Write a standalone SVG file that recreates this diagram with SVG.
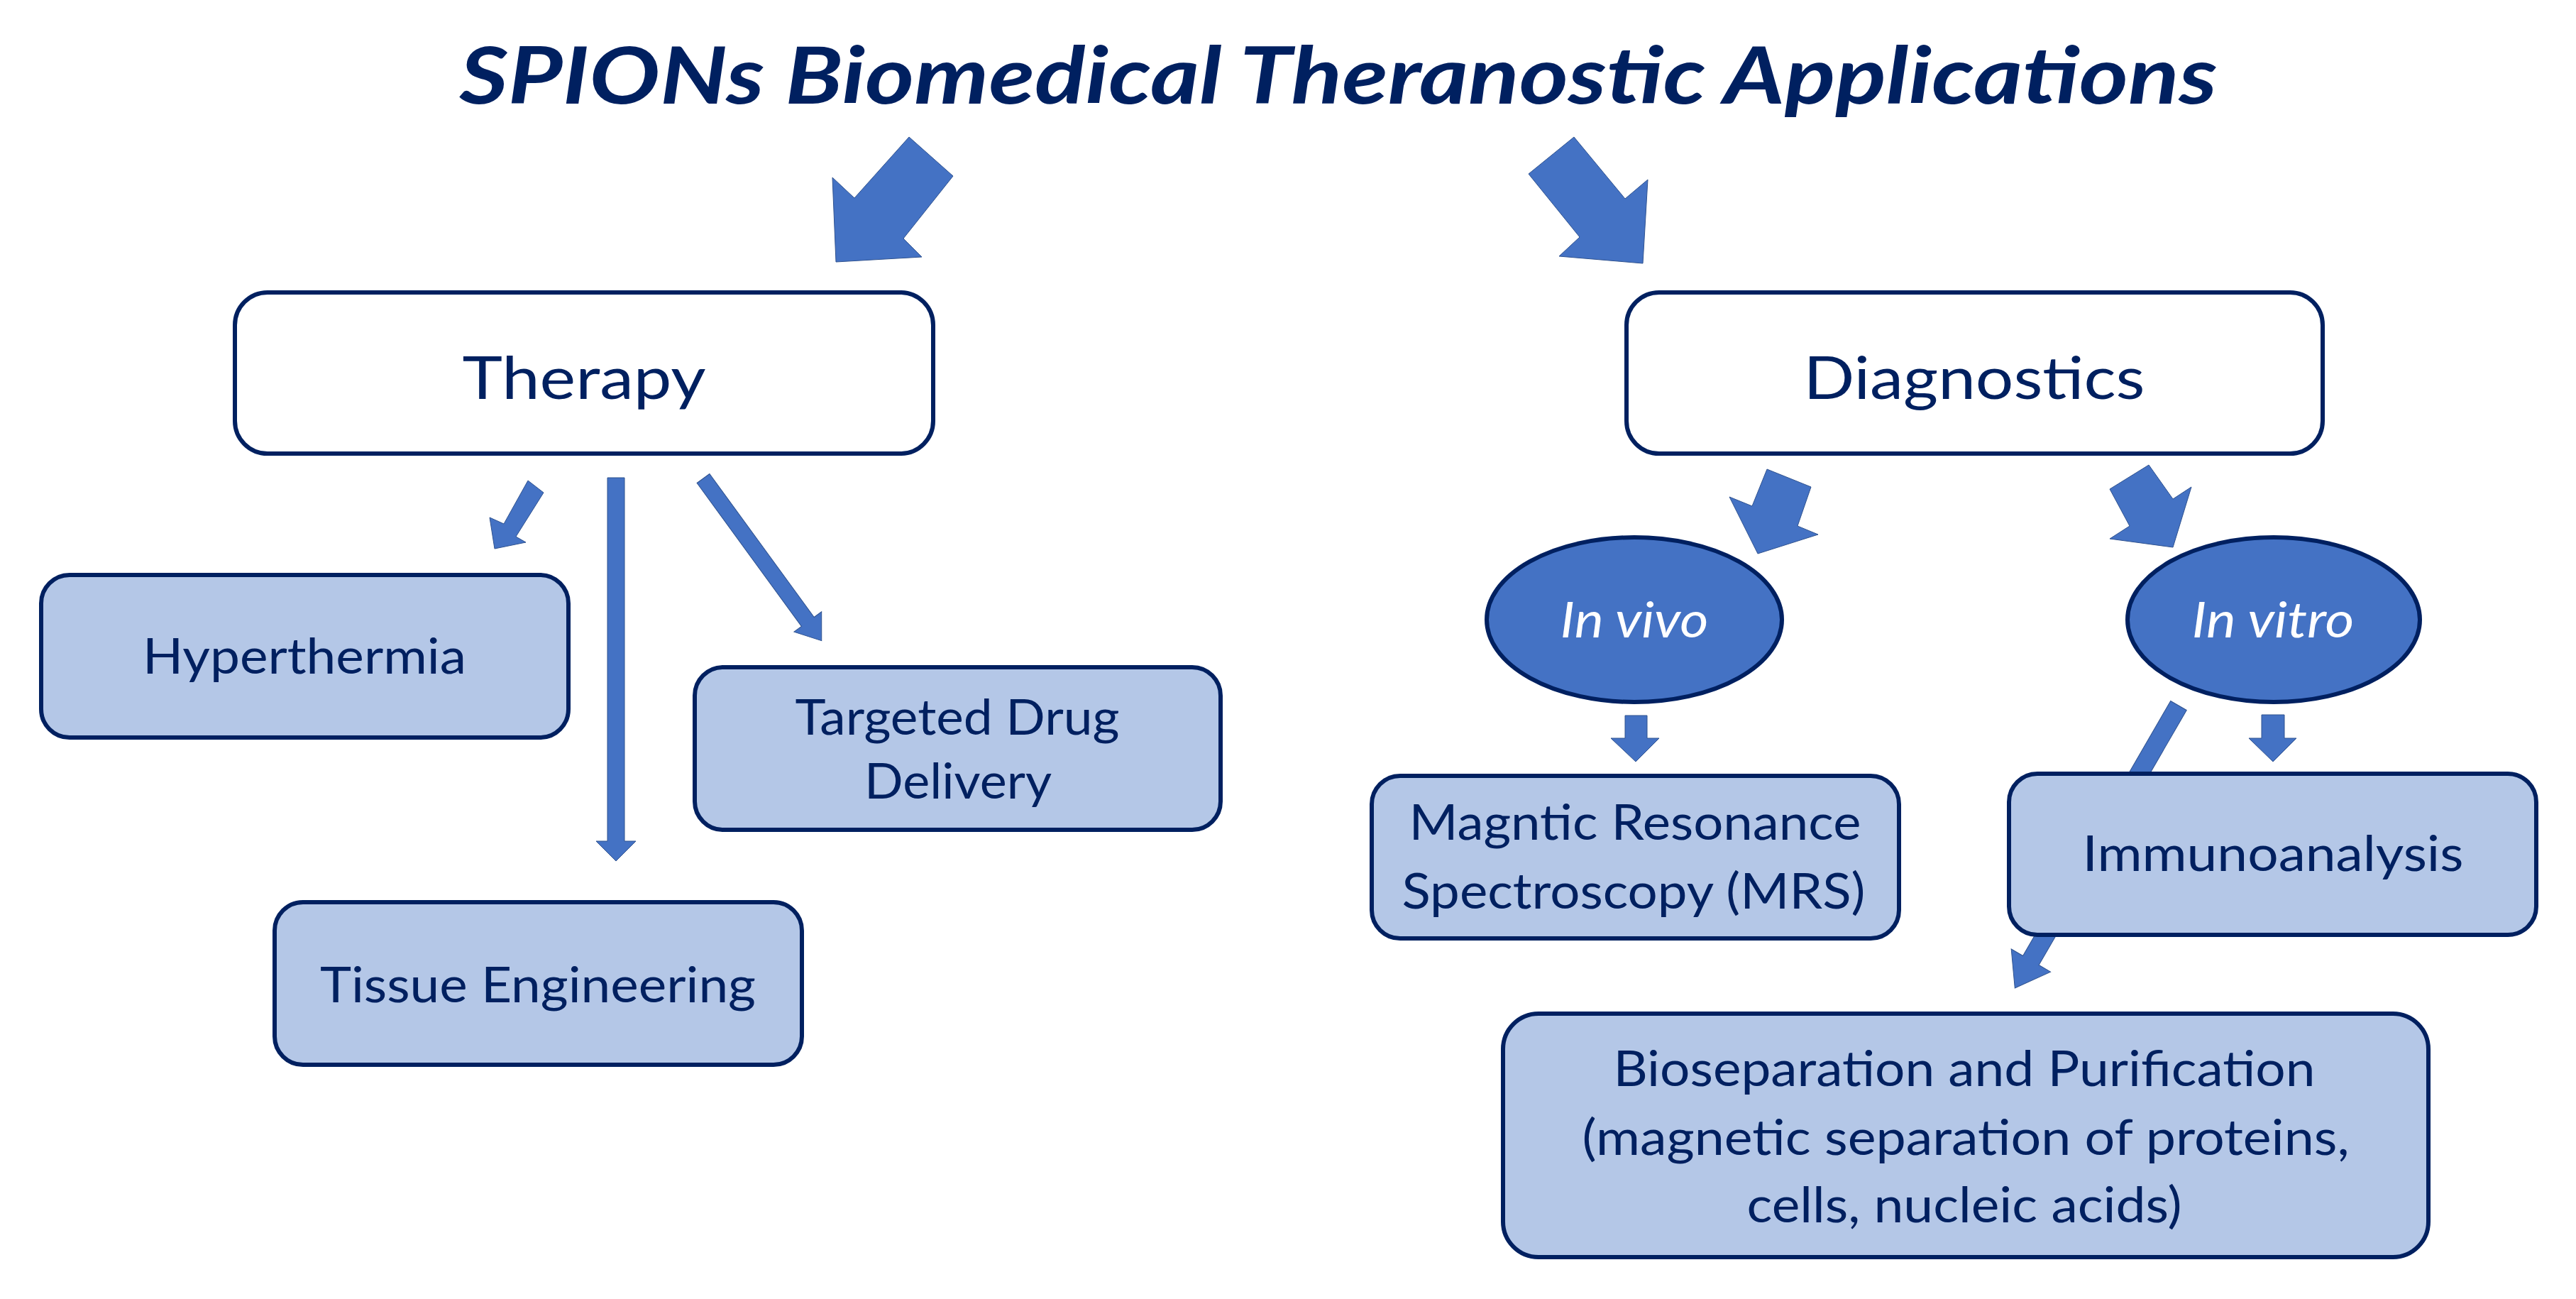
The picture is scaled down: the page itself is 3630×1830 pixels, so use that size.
<svg xmlns="http://www.w3.org/2000/svg" width="3630" height="1830" viewBox="0 0 3630 1830">
<style>
.bx{fill:#B4C7E7;stroke:#002060;stroke-width:6}
.wb{fill:#fff;stroke:#002060;stroke-width:6}
.el{fill:#4472C4;stroke:#002060;stroke-width:6}
.ar{fill:#4472C4;stroke:#2F528F;stroke-width:1}
text{font-family:Lato,"Open Sans","Liberation Sans",sans-serif;fill:#002060;text-anchor:middle}
.t{font-size:70px}
.h{font-size:84px}
.i{font-size:70px;font-style:italic;fill:#fff}
</style>
<rect width="3630" height="1830" fill="#fff"/>
<text x="1886" y="146" style="font-size:112px;font-weight:bold;font-style:italic" textLength="2477" lengthAdjust="spacingAndGlyphs">SPIONs Biomedical Theranostic Applications</text>
<g id="connectors">
<polygon class="ar" points="1281,193 1343,248 1273,336 1299,362 1178,369 1173,250 1204,279"/>
<polygon class="ar" points="2218,193 2290,280 2322,253 2315,371 2197,361 2226,334 2154,245"/>
<polygon class="ar" points="744,677 766,694 727,756 741,764 697,773 690,729 710,738"/>
<polygon class="ar" points="856,673 880,673 880,1185 896,1185 868,1213 840,1185 856,1185"/>
<g transform="translate(991,674) rotate(53.9)"><polygon class="ar" points="0,-11 250,-11 250,-24 283,0 250,24 250,11 0,11"/></g>
<polygon class="ar" points="2490,661 2552,686 2533,741 2562,753 2477,780 2437,700 2469,713"/>
<polygon class="ar" points="3028,655 3062,703 3088,686 3062,771 2973,759 3001,741 2973,689"/>
<polygon class="ar" points="2290,1008 2321,1008 2321,1040 2338,1040 2305,1073 2270,1040 2290,1040"/>
<polygon class="ar" points="3187,1007 3219,1007 3219,1040 3236,1040 3203,1073 3169,1040 3187,1040"/>
<g transform="translate(3070,994) rotate(120.1)"><polygon class="ar" points="0,-13 415,-13 415,-32 460,0 415,32 415,13 0,13"/></g>
</g>
<g id="therapy"><rect class="wb" x="331" y="412" width="984" height="227" rx="46"/><text class="h" x="823" y="562" textLength="343" lengthAdjust="spacingAndGlyphs">Therapy</text></g>
<g id="diagnostics"><rect class="wb" x="2292" y="412" width="981" height="227" rx="46"/><text class="h" x="2782" y="562" textLength="481" lengthAdjust="spacingAndGlyphs">Diagnostics</text></g>
<g id="hyperthermia"><rect class="bx" x="58" y="810" width="743" height="229" rx="40"/><text class="t" x="429" y="949" textLength="456" lengthAdjust="spacingAndGlyphs">Hyperthermia</text></g>
<g id="tissue"><rect class="bx" x="387" y="1271" width="743" height="229" rx="40"/><text class="t" x="758" y="1412" textLength="614" lengthAdjust="spacingAndGlyphs">Tissue Engineering</text></g>
<g id="drug"><rect class="bx" x="979" y="940" width="741" height="229" rx="40"/><text class="t" x="1349" y="1035" textLength="457" lengthAdjust="spacingAndGlyphs">Targeted Drug</text><text class="t" x="1350" y="1125" textLength="264" lengthAdjust="spacingAndGlyphs">Delivery</text></g>
<g id="invivo"><ellipse class="el" cx="2303" cy="873" rx="208" ry="116"/><text class="i" x="2303" y="898" textLength="209" lengthAdjust="spacingAndGlyphs">In vivo</text></g>
<g id="invitro"><ellipse class="el" cx="3204" cy="873" rx="206" ry="116"/><text class="i" x="3203" y="898" textLength="229" lengthAdjust="spacingAndGlyphs">In vitro</text></g>
<g id="mrs"><rect class="bx" x="1933" y="1093" width="743" height="229" rx="40"/><text class="t" x="2304" y="1183" textLength="637" lengthAdjust="spacingAndGlyphs">Magntic Resonance</text><text class="t" x="2302" y="1280" textLength="653" lengthAdjust="spacingAndGlyphs">Spectroscopy (MRS)</text></g>
<g id="immuno"><rect class="bx" x="2831" y="1090" width="743" height="227" rx="40"/><text class="t" x="3203" y="1227" textLength="537" lengthAdjust="spacingAndGlyphs">Immunoanalysis</text></g>
<g id="bio"><rect class="bx" x="2118" y="1428" width="1304" height="343" rx="50"/><text class="t" x="2768" y="1530" textLength="989" lengthAdjust="spacingAndGlyphs">Bioseparation and Purification</text><text class="t" x="2770" y="1627" textLength="1081" lengthAdjust="spacingAndGlyphs">(magnetic separation of proteins,</text><text class="t" x="2768" y="1722" textLength="613" lengthAdjust="spacingAndGlyphs">cells, nucleic acids)</text></g>
</svg>
